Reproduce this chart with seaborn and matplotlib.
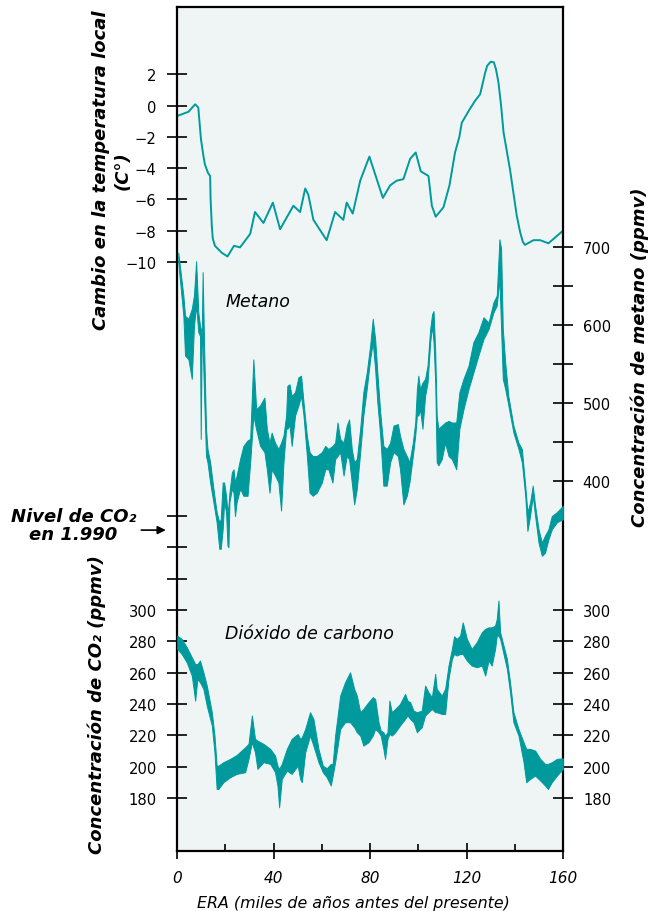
import matplotlib
matplotlib.use('Agg')
import matplotlib.pyplot as plt
import seaborn as sns

# Vostok record; ages in thousands of years before present
temp_age = [0.2, 4.7, 7.5, 8.8, 9.2, 9.9, 10.9, 11.5, 12.8, 13.7, 13.9, 14.4, 14.8, 15.7, 18.5,
            20.9, 23.6, 26.1, 30.3, 32.3, 35.8, 39.7, 42.7, 48.2, 51.0, 53.1, 54.4, 56.5, 62.0,
            65.5, 68.9, 70.3, 72.8, 75.9, 79.7, 85.3, 88.3, 91.0, 93.8, 96.6, 98.9, 101.0, 104.2,
            105.6, 107.2, 110.4, 112.9, 115.2, 117.0, 118.0, 121.3, 123.5, 125.6, 127.7, 128.5,
            130.0, 131.3, 132.2, 133.2, 134.3, 135.3, 138.0, 140.8, 142.2, 143.3, 144.2, 147.7,
            150.5, 153.9, 159.9]
temp_c = [-0.66, -0.4, 0.08, -0.13, -0.87, -2.15, -3.2, -3.74, -4.3, -4.5, -6.0, -7.7, -8.5, -8.96,
          -9.4, -9.64, -8.96, -9.06, -8.2, -6.8, -7.5, -6.2, -7.9, -6.4, -6.8, -5.3, -5.7, -7.3,
          -8.6, -6.8, -7.3, -6.2, -6.9, -4.8, -3.26, -5.9, -5.1, -4.8, -4.7, -3.4, -3.0, -4.2,
          -4.5, -6.4, -7.1, -6.5, -5.1, -3.0, -2.0, -1.1, -0.23, 0.3, 0.72, 2.1, 2.53,
          2.8, 2.76, 2.3, 1.47, -0.02, -1.7, -4.1, -7.05, -8.1, -8.7, -8.9, -8.6,
          -8.6, -8.8, -8.0]

ch4_age = [0.5, 2.6, 3.3, 4.7, 6.1, 7.0, 7.9, 8.8, 9.5, 9.8,
           10.2, 10.6, 11.2, 12.0, 12.6, 13.7, 15.1, 16.4, 17.5, 18.1,
           18.9, 19.5, 20.3, 20.9, 21.3, 21.7, 22.7, 23.4, 24.0, 24.7,
           26.1, 27.5, 29.2, 30.3, 31.6, 32.8, 34.4, 36.2, 37.2, 38.3,
           39.2, 40.6, 42.0, 43.1, 44.1, 45.2, 45.7, 46.6, 47.5, 48.9,
           50.3, 51.4, 52.4, 53.8, 54.9, 56.2, 57.9, 60.0, 61.4, 62.7,
           64.4, 65.5, 66.5, 67.6, 69.0, 70.3, 71.3, 72.4, 73.4, 74.5,
           75.9, 77.2, 78.6, 80.0, 81.1, 82.1, 83.0, 84.2, 85.5, 86.9,
           88.3, 89.7, 91.5, 92.4, 93.8, 95.2, 96.3, 97.7, 98.7, 99.4,
           100.0, 100.7, 101.7, 102.8, 103.8, 104.9, 105.7, 106.3, 107.0, 107.6,
           108.3, 109.7, 111.1, 112.5, 113.9, 115.7, 117.0, 118.7, 120.8, 122.8,
           124.9, 127.0, 129.1, 131.1, 132.5, 133.6, 134.3, 135.0, 136.0, 137.3,
           139.4, 141.5, 142.9, 144.3, 145.2, 146.3, 147.4, 148.4, 149.8, 151.2,
           152.5, 153.9, 155.3, 157.4, 159.9]
ch4_high = [693, 638, 612, 608, 621, 638, 682, 616, 599, 595,
            586, 668, 574, 467, 441, 424, 389, 360, 347, 351,
            398, 398, 381, 360, 368, 385, 411, 415, 398, 407,
            428, 445, 452, 454, 556, 492, 497, 507, 467, 449,
            462, 449, 441, 449, 458, 484, 522, 524, 509, 514,
            533, 535, 501, 458, 437, 432, 432, 437, 445, 441,
            445, 449, 475, 454, 449, 471, 479, 441, 424, 428,
            467, 514, 539, 573, 608, 582, 539, 488, 445, 441,
            449, 471, 473, 458, 441, 432, 424, 449, 475, 518,
            535, 518, 526, 531, 548, 595, 614, 618, 565, 484,
            467, 471, 475, 477, 475, 475, 514, 531, 548, 578,
            591, 610, 603, 629, 638, 710, 698, 595, 552, 509,
            471, 449, 441, 394, 360, 372, 394, 368, 338, 321,
            330, 338, 355, 360, 368]
ch4_low = [680, 612, 561, 556, 531, 599, 625, 591, 586, 454,
           578, 574, 509, 432, 424, 398, 372, 347, 313, 313,
           338, 373, 360, 317, 315, 373, 390, 385, 355, 373,
           390, 381, 381, 424, 484, 466, 445, 437, 415, 385,
           415, 407, 398, 362, 424, 467, 467, 471, 445, 484,
           497, 509, 484, 432, 385, 381, 385, 398, 415, 415,
           398, 428, 432, 437, 407, 432, 428, 398, 370, 390,
           437, 484, 518, 556, 578, 543, 501, 458, 394, 394,
           424, 437, 432, 415, 370, 381, 398, 432, 458, 484,
           484, 492, 467, 509, 526, 578, 599, 578, 526, 424,
           420, 428, 449, 432, 428, 415, 467, 492, 518, 539,
           561, 582, 595, 616, 625, 659, 595, 531, 518, 497,
           462, 441, 424, 381, 336, 355, 381, 355, 321, 304,
           308, 325, 338, 347, 351]

co2_age = [0.1, 1.9, 4.0, 6.1, 7.5, 8.4, 9.5, 10.9, 12.3, 14.4,
           15.5, 16.4, 17.1, 19.2, 22.0, 24.7, 28.2, 29.6, 31.0, 32.3,
           33.3, 35.8, 38.6, 40.6, 41.6, 42.3, 43.4, 45.5, 47.5, 50.0,
           51.0, 51.7, 53.1, 55.1, 56.5, 58.6, 60.4, 62.0, 63.7, 64.5,
           65.5, 67.6, 69.6, 71.7, 73.4, 74.5, 75.9, 77.2, 79.3, 81.1,
           82.1, 83.5, 84.4, 85.5, 86.2, 87.2, 88.0, 89.0, 90.4, 92.4,
           94.5, 95.5, 96.6, 98.0, 99.4, 101.4, 102.8, 104.2, 105.6, 107.0,
           107.6, 109.7, 111.1, 112.5, 113.9, 114.8, 115.9, 117.3, 118.4, 120.1,
           122.1, 124.2, 126.3, 127.7, 129.1, 130.4, 131.8, 132.5, 133.2, 133.9,
           135.3, 136.7, 138.0, 139.4, 141.5, 143.6, 144.7, 146.3, 148.4, 150.5,
           152.5, 153.7, 155.3, 157.4, 159.9]
co2_high = [283.6, 281.5, 276.2, 269.8, 265.5, 265.5, 267.7, 260.2, 251.7, 234.7,
            219.8, 200.6, 200.6, 202.8, 204.9, 207.4, 212.3, 214.5, 232.6, 217.7,
            216.6, 214.5, 211.3, 207.0, 200.6, 198.5, 201.7, 211.3, 217.7, 220.8,
            217.7, 218.7, 224.0, 234.7, 230.4, 211.3, 200.6, 198.9, 201.7, 201.7,
            219.8, 245.3, 253.8, 260.2, 249.6, 245.3, 234.7, 236.8, 241.1, 244.3,
            243.2, 228.3, 223.0, 221.9, 219.8, 221.9, 242.1, 234.7, 236.8, 240.0,
            246.4, 242.1, 241.1, 235.7, 234.7, 235.7, 251.7, 247.4, 244.3, 259.2,
            249.6, 245.3, 249.6, 264.5, 275.1, 283.2, 281.5, 283.6, 292.1, 281.5,
            275.1, 279.4, 285.8, 287.9, 288.9, 288.9, 290.0, 294.3, 306.0, 285.8,
            277.2, 268.7, 253.8, 234.7, 224.0, 215.5, 211.3, 211.3, 210.2, 204.9,
            201.7, 201.7, 202.8, 204.9, 205.3]
co2_low = [275.1, 271.9, 266.6, 258.1, 242.1, 256.0, 253.8, 249.6, 238.9, 226.2,
           209.1, 185.7, 185.7, 190.0, 193.2, 195.3, 196.4, 204.9, 215.5, 209.1,
           198.5, 202.8, 201.7, 196.4, 187.9, 174.0, 192.1, 197.4, 195.3, 200.6,
           192.1, 190.0, 209.1, 219.8, 213.4, 202.8, 196.4, 193.2, 187.9, 194.2,
           202.8, 224.0, 228.3, 228.3, 225.1, 221.9, 219.8, 213.4, 215.5, 219.8,
           224.0, 221.9, 219.8, 211.3, 204.9, 217.7, 220.8, 219.8, 221.9, 226.2,
           230.4, 232.6, 230.4, 228.3, 221.9, 225.1, 232.6, 234.7, 236.8, 234.7,
           234.7, 233.6, 233.6, 256.0, 268.7, 271.9, 270.9, 271.9, 271.9, 267.7,
           264.5, 263.4, 264.5, 258.1, 267.7, 264.5, 275.1, 283.6, 283.6, 281.5,
           271.9, 262.3, 247.4, 228.3, 219.8, 202.8, 190.0, 192.1, 194.2, 191.1,
           187.9, 185.7, 190.0, 194.2, 198.5]

co2_1990 = 351

# ticks
age_ticks = [0, 40, 80, 120, 160]
age_minor = [20, 60, 100, 140]
temp_ticks = [2, 0, -2, -4, -6, -8, -10]
ch4_ticks = [400, 500, 600, 700]
ch4_minor = [450, 550, 650]
co2_ticks = [180, 200, 220, 240, 260, 280, 300]
co2_minor = [320, 340, 360]

TEAL = '#009a9c'
BG = '#eef5f4'

sns.set_style('white')
plt.rcParams['font.family'] = ['DejaVu Sans']
plt.rcParams['text.color'] = 'black'
plt.rcParams['axes.labelcolor'] = 'black'
plt.rcParams['xtick.color'] = 'black'
plt.rcParams['ytick.color'] = 'black'

fig = plt.figure(figsize=(6.51, 9.12), dpi=100)
ax = fig.add_axes([0.272, 0.066, 0.593, 0.925])
ax.set_facecolor(BG)

# temperature (left scale, top of the panel)
sns.lineplot(x=temp_age, y=temp_c, ax=ax, color=TEAL, lw=1.4)
ax.set_xlim(0, 160)
ax.set_ylim(-47.6, 6.28)

# methane (right scale)
ax_ch4 = ax.twinx()
ax_ch4.fill_between(ch4_age, ch4_low, ch4_high, color=TEAL, lw=0.7)
ax_ch4.set_ylim(-74.4, 1007.7)

# CO2 (both sides, bottom of the panel)
ax_co2 = ax.twinx()
ax_co2.fill_between(co2_age, co2_low, co2_high, color=TEAL, lw=0.7)
ax_co2.set_ylim(146.2, 684.9)

for a in (ax_ch4, ax_co2):
    for s in a.spines.values():
        s.set_visible(False)
for s in ax.spines.values():
    s.set_color('black')
    s.set_linewidth(1.6)

# axis ticks
ax.set_xticks(age_ticks)
ax.set_xticks(age_minor, minor=True)
ax.tick_params(axis='x', which='major', direction='inout', length=12, width=1.2,
               pad=8, labelsize=11, bottom=True)
ax.tick_params(axis='x', which='minor', direction='in', length=5, width=1.2, bottom=True)
for lbl in ax.get_xticklabels():
    lbl.set_style('italic')

ax.set_yticks(temp_ticks)
ax.set_ylabel('')
ax.tick_params(axis='y', direction='inout', length=15, width=1.2, pad=7.5, labelsize=10.6, left=True)

ax_ch4.set_yticks(ch4_ticks)
ax_ch4.set_yticks(ch4_minor, minor=True)
ax_ch4.tick_params(axis='y', which='both', direction='inout', length=15, width=1.2,
                   pad=6.5, labelsize=10.6, right=True)

ax_co2.set_yticks(co2_ticks)
ax_co2.set_yticks(co2_minor, minor=True)
ax_co2.tick_params(axis='y', which='major', direction='inout', length=15, width=1.2, pad=7,
                   labelsize=10.6, left=True, right=True, labelleft=True, labelright=True)
ax_co2.tick_params(axis='y', which='minor', direction='inout', length=15, width=1.2,
                   left=True, right=False)

# text inside the panel
ax_ch4.text(19.9, 631, 'Metano', style='italic', fontsize=12.5, va='center')
ax_co2.text(19.9, 285, 'Dióxido de carbono', style='italic', fontsize=12.5, va='center')

# 1990 CO2 level marker
tr = ax_co2.get_yaxis_transform()
ax_co2.annotate('', xy=(-0.022, co2_1990), xytext=(-0.10, co2_1990), xycoords=tr, textcoords=tr,
                arrowprops=dict(arrowstyle='-|>', color='black', lw=1.2, mutation_scale=12),
                annotation_clip=False)
ax_co2.text(-0.268, 354, 'Nivel de CO₂\nen 1.990', transform=tr, ha='center', va='center',
            fontsize=13, fontweight='bold', style='italic', linespacing=1.0)

# axis titles
title_kw = dict(rotation=90, ha='center', va='center', fontsize=13, fontweight='bold', style='italic')
fig.text(0.155, 0.8136, 'Cambio en la temperatura local', **title_kw)
fig.text(0.189, 0.8125, '(C°)', **title_kw)
fig.text(0.149, 0.228, 'Concentración de CO₂ (ppmv)', **title_kw)
fig.text(0.983, 0.6086, 'Concentración de metano (ppmv)', **title_kw)
ax.set_xlabel('ERA (miles de años antes del presente)', style='italic', fontsize=11.4)
ax.xaxis.set_label_coords(0.456, -0.052)

fig.savefig('out.png', dpi=100)
